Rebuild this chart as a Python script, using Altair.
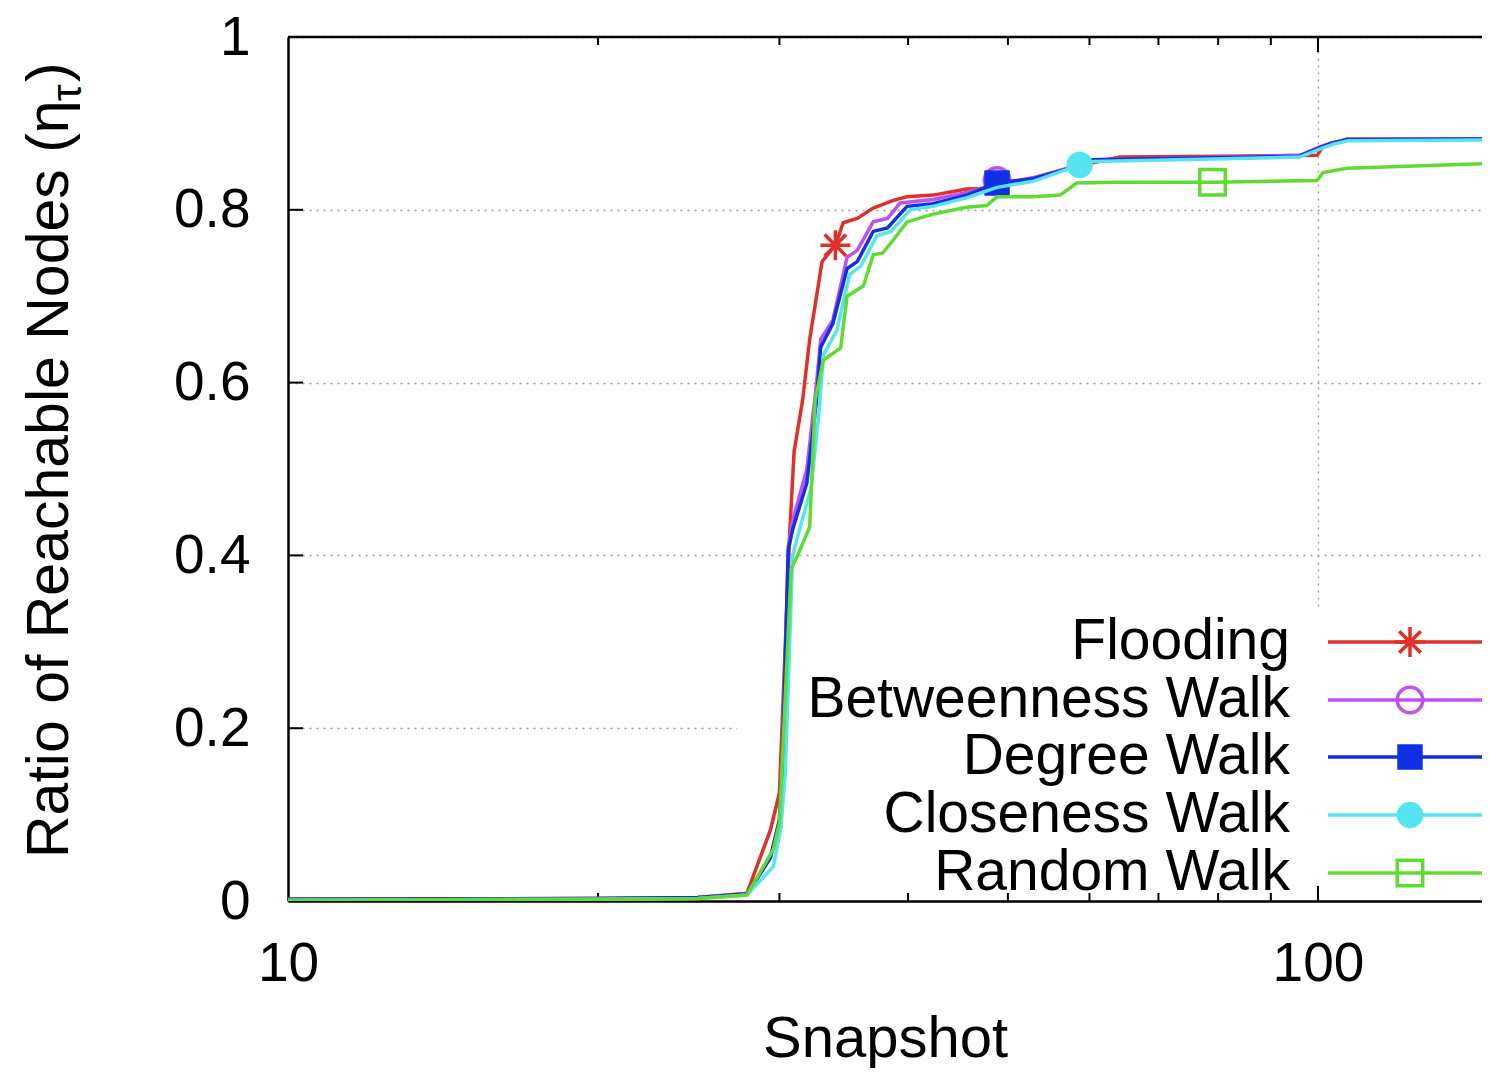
import altair as alt
import pandas as pd

# ---------------- data ----------------
series = ["Flooding", "Betweenness Walk", "Degree Walk", "Closeness Walk", "Random Walk"]
colors = ["#e0302a", "#c050f0", "#1030e6", "#55e4f0", "#5edc30"]

flood_x = [10, 20, 25, 27.9, 29.4, 30.0, 30.7, 31.0, 31.6, 32.1, 33.0, 34.0, 34.6, 35.7, 37.0, 38.7,
           39.9, 42.3, 45.6, 47.7, 52.9, 57.1, 64.2, 80, 99.8, 101.1, 106.7, 150]
flood_y = [0.002, 0.003, 0.004, 0.009, 0.082, 0.125, 0.426, 0.52, 0.58, 0.65, 0.74, 0.759, 0.785, 0.79,
           0.802, 0.811, 0.815, 0.817, 0.824, 0.825, 0.837, 0.848, 0.861, 0.862, 0.863, 0.873, 0.882, 0.882]

betw_x = [10, 20, 25, 27.9, 29.4, 30.0, 30.2, 30.6, 30.9, 31.9, 32.6, 32.9, 33.8, 34.9, 35.7, 37.0,
          38.2, 39.3, 42.3, 45.6, 48.8, 52.9, 57.1, 60.5, 96.0, 100.5, 103, 106.7, 150]
betw_y = [0.002, 0.003, 0.004, 0.008, 0.05, 0.094, 0.155, 0.41, 0.44, 0.50, 0.60, 0.65, 0.672, 0.745,
          0.753, 0.786, 0.79, 0.808, 0.812, 0.82, 0.83, 0.837, 0.848, 0.858, 0.863, 0.873, 0.877, 0.881, 0.882]

deg_x = [10, 20, 25, 27.9, 29.4, 30.0, 30.2, 30.6, 30.9, 31.9, 32.6, 32.9, 33.8, 34.9, 35.7, 37.0,
         38.2, 39.9, 42.3, 45.6, 48.8, 52.9, 57.1, 60.5, 96.0, 100.5, 103, 106.7, 150]
deg_y = [0.002, 0.003, 0.004, 0.008, 0.05, 0.094, 0.155, 0.406, 0.43, 0.484, 0.58, 0.641, 0.668, 0.732,
         0.74, 0.775, 0.779, 0.804, 0.807, 0.817, 0.831, 0.836, 0.847, 0.858, 0.862, 0.872, 0.877, 0.881, 0.882]

clos_x = [10, 20, 25, 27.9, 29.6, 30.1, 30.4, 30.9, 31.3, 32.2, 32.8, 33.1, 34.1, 35.1, 36.0, 37.3,
          38.5, 40.2, 42.3, 45.6, 48.8, 52.9, 58.7, 60.5, 96.0, 100.8, 103.5, 107, 150]
clos_y = [0.001, 0.002, 0.003, 0.007, 0.04, 0.085, 0.15, 0.4, 0.425, 0.478, 0.57, 0.632, 0.66, 0.725,
          0.735, 0.77, 0.775, 0.8, 0.804, 0.814, 0.826, 0.833, 0.852, 0.856, 0.861, 0.871, 0.876, 0.88, 0.881]

rand_x = [10, 20, 25, 27.9, 29.6, 30.0, 30.3, 30.8, 31.2, 32.1, 32.5, 33.1, 34.4, 34.9, 36.2, 37.0,
          37.8, 38.7, 39.9, 42.3, 45.6, 47.7, 48.8, 52.9, 56.2, 58.3, 64.2, 79, 99.8, 101.1, 106.7, 150]
rand_y = [0.001, 0.002, 0.003, 0.007, 0.06, 0.09, 0.2, 0.385, 0.398, 0.433, 0.58, 0.626, 0.64, 0.70,
          0.712, 0.748, 0.75, 0.765, 0.786, 0.795, 0.803, 0.805, 0.815, 0.815, 0.817, 0.831, 0.832, 0.832,
          0.834, 0.843, 0.848, 0.854]

# one marker per curve (as in the picture)
marker_x = [34.0, 48.8, 48.8, 58.7, 79]
marker_y = [0.759, 0.834, 0.831, 0.852, 0.832]

x_major = [10, 100]
x_minor = [20, 30, 40, 50, 60, 70, 80, 90]
y_ticks = [0, 0.2, 0.4, 0.6, 0.8, 1]

# ---------------- styling ----------------
W, H = 1194, 864
XMAX = 144.3
FONT = "Liberation Sans"
STAR = "M-1,0L1,0M0,-1L0,1M-0.72,-0.72L0.72,0.72M-0.72,0.72L0.72,-0.72"
shapes = [STAR, "circle", "square", "circle", "square"]
filled = [False, False, True, True, False]
msize = [900, 650, 650, 700, 650]
LW = 3.5

xs_all = [flood_x, betw_x, deg_x, clos_x, rand_x]
ys_all = [flood_y, betw_y, deg_y, clos_y, rand_y]

xscale = alt.Scale(type="log", domain=[10, XMAX], nice=False)
yscale = alt.Scale(domain=[0, 1], nice=False)

x_axis = alt.Axis(values=x_major, format="d", grid=True, gridDash=[2, 5], gridColor="#9a9a9a",
                  gridWidth=1.3, domain=True, domainColor="black", domainWidth=2.5, ticks=False,
                  tickSize=0, labelFont=FONT, labelFontSize=55, labelColor="black", labelPadding=36,
                  labelFlush=False, title="Snapshot", titleFont=FONT, titleFontSize=58,
                  titleFontWeight="normal", titleColor="black", titleY=155,
                  titleBaseline="alphabetic")
y_axis = alt.Axis(values=y_ticks, format="~g", grid=True, gridDash=[2, 5], gridColor="#9a9a9a",
                  gridWidth=1.3, domain=True, domainColor="black", domainWidth=2.5, ticks=False,
                  tickSize=0, labelFont=FONT, labelFontSize=55, labelColor="black", labelPadding=38,
                  labelFlush=False, title=None)


def X(field):
    return alt.X(field, type="quantitative", scale=xscale, axis=x_axis)


def Y(field):
    return alt.Y(field, type="quantitative", scale=yscale, axis=y_axis)


layers = []

# white opaque legend box (over grid, under curves)
dummy = pd.DataFrame({"d": [0]})
layers.append(
    alt.Chart(dummy).mark_rect(color="white").encode(
        x=alt.value(449), x2=alt.value(W), y=alt.value(573), y2=alt.value(H - 2)
    )
)

# top border
layers.append(
    alt.Chart(dummy).mark_rule(color="black", strokeWidth=2.5).encode(
        x=alt.value(0), x2=alt.value(W), y=alt.value(0)
    )
)

# inward ticks
minor_df = pd.DataFrame({"x": x_minor})
major_df = pd.DataFrame({"x": x_major[1:]})
ytick_df = pd.DataFrame({"y": y_ticks[1:-1]})
for dfv, ln in [(minor_df, 8), (major_df, 15)]:
    layers.append(alt.Chart(dfv).mark_rule(color="black", strokeWidth=2).encode(
        x=X("x"), y=alt.value(H), y2=alt.value(H - ln)))
    layers.append(alt.Chart(dfv).mark_rule(color="black", strokeWidth=2).encode(
        x=X("x"), y=alt.value(0), y2=alt.value(ln)))
layers.append(alt.Chart(ytick_df).mark_rule(color="black", strokeWidth=2).encode(
    y=Y("y"), x=alt.value(0), x2=alt.value(15)))

# curves + markers
for i, name in enumerate(series):
    df = pd.DataFrame({"x": xs_all[i], "y": ys_all[i]})
    layers.append(
        alt.Chart(df).mark_line(color=colors[i], strokeWidth=LW, clip=True).encode(
            x=X("x"), y=Y("y"), order=alt.Order("x:Q")
        )
    )
    mdf = pd.DataFrame({"x": [marker_x[i]], "y": [marker_y[i]]})
    layers.append(
        alt.Chart(mdf).mark_point(shape=shapes[i], filled=filled[i], color=colors[i],
                                  size=msize[i], strokeWidth=LW, opacity=1).encode(
            x=X("x"), y=Y("y")
        )
    )

# legend (gnuplot style: text right-aligned, then sample line with marker)
leg_rows = [605, 663, 720, 778, 836]
for i, name in enumerate(series):
    ldf = pd.DataFrame({"name": [name]})
    layers.append(alt.Chart(ldf).mark_text(font=FONT, fontSize=57, align="right", baseline="middle",
                                           color="black").encode(
        x=alt.value(1002), y=alt.value(leg_rows[i]), text="name:N"))
    layers.append(alt.Chart(ldf).mark_rule(color=colors[i], strokeWidth=LW).encode(
        x=alt.value(1040), x2=alt.value(W), y=alt.value(leg_rows[i])))
    layers.append(alt.Chart(ldf).mark_point(shape=shapes[i], filled=filled[i], color=colors[i],
                                            size=msize[i], strokeWidth=LW, opacity=1).encode(
        x=alt.value(1122), y=alt.value(leg_rows[i])))

# y-axis title with subscript tau
title_parts = pd.DataFrame({"t": ["Ratio of Reachable Nodes (η"]})
layers.append(alt.Chart(title_parts).mark_text(font=FONT, fontSize=59, angle=270, align="left",
                                               baseline="alphabetic", color="black").encode(
    x=alt.value(-220), y=alt.value(821), text="t:N"))
layers.append(alt.Chart(pd.DataFrame({"t": ["τ"]})).mark_text(
    font=FONT, fontSize=42, angle=270, align="left", baseline="alphabetic", color="black").encode(
    x=alt.value(-207), y=alt.value(64), text="t:N"))
layers.append(alt.Chart(pd.DataFrame({"t": [")"]})).mark_text(
    font=FONT, fontSize=59, angle=270, align="left", baseline="alphabetic", color="black").encode(
    x=alt.value(-220), y=alt.value(45), text="t:N"))

chart = alt.layer(*layers).properties(
    width=W, height=H,
    padding={"left": 280, "top": 29, "right": 0, "bottom": 167},
    autosize=alt.AutoSizeParams(type="none"),
    background="white",
).configure_view(stroke=None)

chart.save("out.html", embed_options={"renderer": "svg", "actions": False})
